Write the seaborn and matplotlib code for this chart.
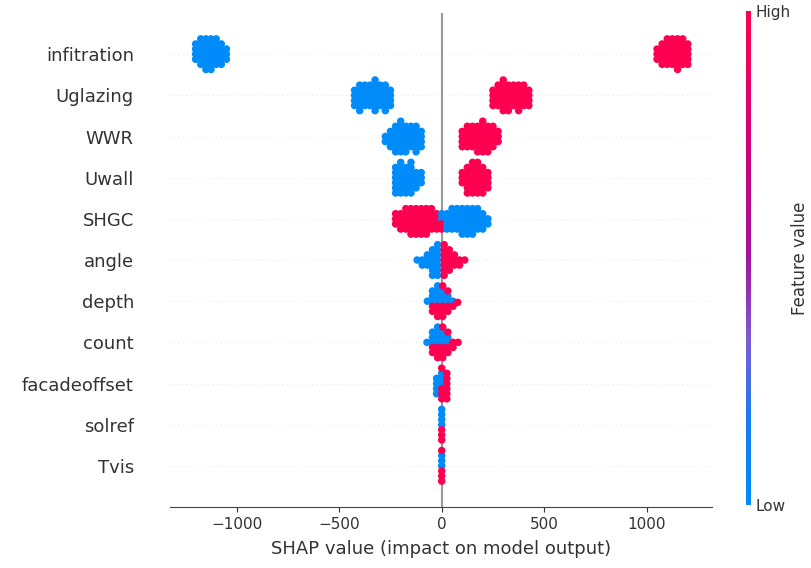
import numpy as np
import pandas as pd
import matplotlib
matplotlib.use("Agg")
import matplotlib.pyplot as plt
import seaborn as sns
from matplotlib.colors import LinearSegmentedColormap
from matplotlib.cm import ScalarMappable

# Features, top to bottom (ordered by mean |SHAP|)
features = ["infitration", "Uglazing", "WWR", "Uwall", "SHGC", "angle",
            "depth", "count", "facadeoffset", "solref", "Tvis"]

# For each feature: SHAP value bins, and how many low / high feature-value
# samples fall in each bin
infitration_bins = [-1200, -1175, -1150, -1125, -1100, -1075, -1050,
                    1050, 1075, 1100, 1125, 1150, 1175, 1200]
infitration_low = [4, 6, 7, 7, 6, 5, 3, 0, 0, 0, 0, 0, 0, 0]
infitration_high = [0, 0, 0, 0, 0, 0, 0, 3, 5, 6, 6, 7, 6, 5]

uglazing_bins = [-425, -400, -375, -350, -325, -300, -275, -250,
                 250, 275, 300, 325, 350, 375, 400, 425]
uglazing_low = [4, 6, 5, 5, 7, 5, 6, 4, 0, 0, 0, 0, 0, 0, 0, 0]
uglazing_high = [0, 0, 0, 0, 0, 0, 0, 0, 4, 5, 7, 6, 5, 6, 5, 4]

wwr_bins = [-275, -250, -225, -200, -175, -150, -125, -100,
            100, 125, 150, 175, 200, 225, 250, 275]
wwr_low = [2, 4, 6, 7, 6, 5, 6, 4, 0, 0, 0, 0, 0, 0, 0, 0]
wwr_high = [0, 0, 0, 0, 0, 0, 0, 0, 4, 5, 5, 6, 7, 6, 5, 3]

uwall_bins = [-225, -200, -175, -150, -125, -100, 100, 125, 150, 175, 200, 225]
uwall_low = [6, 7, 6, 7, 4, 3, 0, 0, 0, 0, 0, 0]
uwall_high = [0, 0, 0, 0, 0, 0, 3, 6, 7, 7, 6, 4]

shgc_bins = [-225, -200, -175, -150, -125, -100, -75, -50, -25, 0,
             25, 50, 75, 100, 125, 150, 175, 200, 225]
shgc_low = [0, 0, 0, 0, 0, 0, 0, 0, 0, 2, 4, 5, 5, 6, 6, 6, 5, 4, 2]
shgc_high = [3, 4, 5, 6, 6, 6, 6, 5, 4, 2, 0, 0, 0, 0, 0, 0, 0, 0, 0]

angle_bins = [-120, -95, -70, -45, -20, 12, 37, 62, 87, 112]
angle_low = [1, 2, 3, 6, 7, 0, 0, 0, 0, 0]
angle_high = [0, 0, 0, 0, 0, 7, 5, 3, 2, 1]

depth_bins = [-70, -45, -20, 5, 30, 55, 78]
depth_low = [1, 3, 4, 3, 2, 1, 0]
depth_high = [0, 2, 3, 4, 3, 1, 1]

count_bins = [-72, -45, -20, 5, 30, 55, 80]
count_low = [1, 3, 4, 3, 2, 0, 0]
count_high = [0, 2, 3, 4, 3, 2, 1]

facadeoffset_bins = [-25, 0, 25]
facadeoffset_low = [4, 3, 0]
facadeoffset_high = [0, 4, 6]

solref_bins = [0]
solref_low = [4]
solref_high = [3]

tvis_bins = [0]
tvis_low = [3]
tvis_high = [4]

groups = [
    (infitration_bins, infitration_low, infitration_high),
    (uglazing_bins, uglazing_low, uglazing_high),
    (wwr_bins, wwr_low, wwr_high),
    (uwall_bins, uwall_low, uwall_high),
    (shgc_bins, shgc_low, shgc_high),
    (angle_bins, angle_low, angle_high),
    (depth_bins, depth_low, depth_high),
    (count_bins, count_low, count_high),
    (facadeoffset_bins, facadeoffset_low, facadeoffset_high),
    (solref_bins, solref_low, solref_high),
    (tvis_bins, tvis_low, tvis_high),
]

# Long-format table: one row per sample, low/high samples interleaved per bin
rows = []
for feat, (bins, lo, hi) in zip(features, groups):
    for b, nl, nh in zip(bins, lo, hi):
        for k in range(max(nl, nh)):
            if k < nl:
                rows.append((feat, b, 0.0))
            if k < nh:
                rows.append((feat, b, 1.0))
df = pd.DataFrame(rows, columns=["feature", "shap", "value"])

# Blue -> purple -> red colour scale for the feature value
cmap = LinearSegmentedColormap.from_list(
    "red_blue",
    [(0.0, "#008bfb"), (0.18, "#1a7af0"), (0.33, "#7b5ed6"),
     (0.5, "#a3129f"), (0.73, "#d00078"), (1.0, "#ff0051")],
)

axis_color = "#333333"
W, H = 812, 568
fig = plt.figure(figsize=(W / 100, H / 100), dpi=100)
ax = fig.add_axes([170 / W, 61 / H, 542 / W, 494 / H])

sns.swarmplot(data=df, x="shap", y="feature", order=features, hue="value",
              palette=cmap, hue_norm=(0, 1), size=3.5, linewidth=0,
              legend=False, orient="h", ax=ax)

ax.set_ylim(len(features), -1)
ax.set_xlim(-1325, 1318)

for i in range(len(features)):
    ax.axhline(y=i, color="#cccccc", lw=0.5, dashes=(1, 5), zorder=-1)
ax.axvline(x=0, color="#999999", lw=1.5, zorder=-1)

for side in ["top", "right", "left"]:
    ax.spines[side].set_visible(False)
ax.spines["bottom"].set_color("#444444")
ax.set_xticks([-1000, -500, 0, 500, 1000])
ax.tick_params(axis="x", labelsize=11, color=axis_color, labelcolor=axis_color)
ax.tick_params(axis="y", length=0, pad=26, labelsize=13, labelcolor=axis_color)
ax.set_ylabel("")
ax.set_xlabel("SHAP value (impact on model output)", fontsize=13,
              color=axis_color, labelpad=6)

# Lay out the swarm once, then freeze positions and enlarge the dots so
# neighbouring samples merge into solid clusters
fig.canvas.draw()
for coll in ax.collections:
    coll.__dict__.pop("draw", None)
    n = len(coll.get_offsets())
    coll.set_sizes(np.full(n, 5.4 ** 2))

# Colour bar for the feature value
cax = fig.add_axes([746 / W, (H - 505) / H, 5 / W, 494 / H])
sm = ScalarMappable(cmap=cmap, norm=plt.Normalize(0, 1))
cb = fig.colorbar(sm, cax=cax, ticks=[0, 1])
cb.set_ticklabels(["Low", "High"])
cb.ax.tick_params(labelsize=11, length=0, labelcolor=axis_color)
cb.set_label("Feature value", size=12, labelpad=0, color=axis_color)
cb.outline.set_visible(False)

fig.savefig("out.png", dpi=100)
